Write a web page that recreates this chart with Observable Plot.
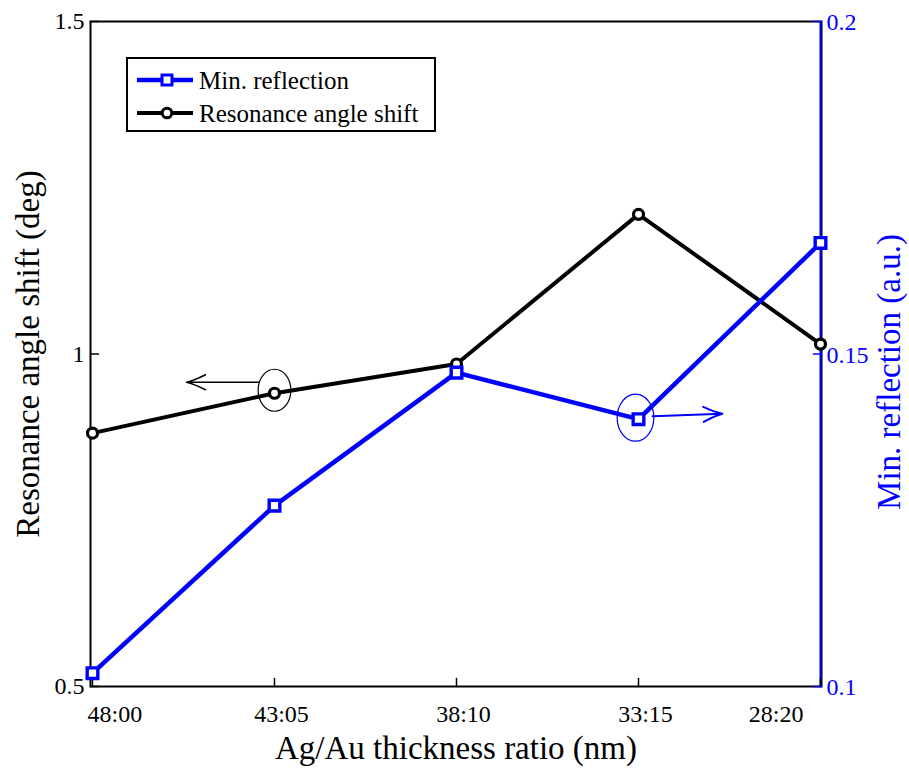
<!DOCTYPE html>
<html>
<head>
<meta charset="utf-8">
<script src="https://cdn.jsdelivr.net/npm/d3@7"></script>
<script src="https://cdn.jsdelivr.net/npm/@observablehq/plot@0.6"></script>
<style>
  html, body { margin: 0; padding: 0; background: white; }
  #wrap { position: relative; width: 909px; height: 774px; }
  #legend { position: absolute; left: 126px; top: 57px; }
</style>
</head>
<body>
<div id="wrap"></div>
<script>
// ---- data ----
const categories = ["48:00", "43:05", "38:10", "33:15", "28:20"];
const resonanceShift = [0.881, 0.941, 0.985, 1.210, 1.015];   // deg, left axis
const minReflection = [0.1020, 0.1272, 0.1472, 0.1402, 0.1667]; // a.u., right axis
const leftTicks = [0.5, 1, 1.5];
const leftTickLabels = ["0.5", "1", "1.5"];
const rightTicks = [0.1, 0.15, 0.2];
const rightTickLabels = ["0.1", "0.15", "0.2"];
const xTitle = "Ag/Au thickness ratio (nm)";
const yLeftTitle = "Resonance angle shift (deg)";
const yRightTitle = "Min. reflection (a.u.)";
const seriesNames = ["Min. reflection", "Resonance angle shift"];

const BLUE = "#0000ff";
const FONT = "'Liberation Serif', 'Times New Roman', Times, serif";

// right axis [0.1,0.2] mapped onto left domain [0.5,1.5]
const rightDomain = [0.1, 0.2], leftDomain = [0.5, 1.5];
const toLeft = v => leftDomain[0] + (v - rightDomain[0]) / (rightDomain[1] - rightDomain[0]) * (leftDomain[1] - leftDomain[0]);

const shiftData = categories.map((c, i) => ({cat: c, v: resonanceShift[i]}));
const reflData = categories.map((c, i) => ({cat: c, v: toLeft(minReflection[i])}));
const rightTickData = rightTicks.map((t, i) => ({v: toLeft(t), label: rightTickLabels[i]}));
const leftTickData = leftTicks.map((t, i) => ({v: t, label: leftTickLabels[i]}));

// custom shapes
const tickShape = { draw(ctx, l) { ctx.moveTo(0, 0); ctx.lineTo(0, -l); } };
const arrowShape = { draw(ctx, l) {
  ctx.moveTo(0, 0); ctx.lineTo(0, -l);
  ctx.moveTo(-7.5, -l + 19); ctx.quadraticCurveTo(-1.5, -l + 7, 0, -l);
  ctx.quadraticCurveTo(1.5, -l + 7, 7.5, -l + 19);
} };
const ellipseSymbol = { draw(ctx, size) {
  const ry = Math.sqrt(size / Math.PI), rx = ry * 0.78, k = 0.5523;
  ctx.moveTo(rx, 0);
  ctx.bezierCurveTo(rx, ry * k, rx * k, ry, 0, ry);
  ctx.bezierCurveTo(-rx * k, ry, -rx, ry * k, -rx, 0);
  ctx.bezierCurveTo(-rx, -ry * k, -rx * k, -ry, 0, -ry);
  ctx.bezierCurveTo(rx * k, -ry, rx, -ry * k, rx, 0);
  ctx.closePath();
} };

const T = {lineAnchor: "middle"};

const chart = Plot.plot({
  width: 909,
  height: 774,
  marginLeft: 90,
  marginRight: 88,
  marginTop: 21,
  marginBottom: 88,
  style: {fontFamily: FONT, background: "white", overflow: "visible"},
  x: {type: "point", domain: categories, padding: 0, axis: null},
  y: {domain: leftDomain, axis: null},
  marks: [
    // frame and blue right axis
    Plot.frame({stroke: "black", strokeWidth: 2}),
    Plot.ruleX([categories[categories.length - 1]], {x: d => d, stroke: BLUE, strokeWidth: 2}),
    // inward ticks
    Plot.vector(categories, {x: d => d, frameAnchor: "bottom", length: 8, rotate: 0, anchor: "start", shape: tickShape, stroke: "black", strokeWidth: 1.5}),
    Plot.vector(leftTickData, {y: "v", frameAnchor: "left", length: 8, rotate: 90, anchor: "start", shape: tickShape, stroke: "black", strokeWidth: 1.5}),
    Plot.vector(rightTickData, {y: "v", frameAnchor: "right", length: 8, rotate: -90, anchor: "start", shape: tickShape, stroke: BLUE, strokeWidth: 1.5}),
    // tick labels
    Plot.text(leftTickData, {...T, y: "v", text: "label", frameAnchor: "left", textAnchor: "end", dx: -6, fontSize: 24, fill: "black"}),
    Plot.text(rightTickData, {...T, y: "v", text: "label", frameAnchor: "right", textAnchor: "start", dx: 5, dy: 1, fontSize: 24, fill: BLUE}),
    Plot.text(categories.slice(0, 1), {...T, x: d => d, text: d => d, frameAnchor: "bottom", textAnchor: "start", dx: -5, dy: 28, fontSize: 24, fill: "black"}),
    Plot.text(categories.slice(1, -1), {...T, x: d => d, text: d => d, frameAnchor: "bottom", textAnchor: "middle", dx: 7, dy: 28, fontSize: 24, fill: "black"}),
    Plot.text(categories.slice(-1), {...T, x: d => d, text: d => d, frameAnchor: "bottom", textAnchor: "end", dx: -17, dy: 28, fontSize: 24, fill: "black"}),
    // axis titles
    Plot.text([xTitle], {...T, text: d => d, frameAnchor: "bottom", textAnchor: "middle", dy: 62, fontSize: 33, fill: "black"}),
    Plot.text([yLeftTitle], {...T, text: d => d, frameAnchor: "left", textAnchor: "middle", dx: -62, rotate: -90, fontSize: 33, fill: "black"}),
    Plot.text([yRightTitle], {...T, text: d => d, frameAnchor: "right", textAnchor: "middle", dx: 68, dy: 18, rotate: -90, fontSize: 33, fill: BLUE}),
    // series lines
    Plot.line(shiftData, {x: "cat", y: "v", stroke: "black", strokeWidth: 4}),
    Plot.line(reflData, {x: "cat", y: "v", stroke: BLUE, strokeWidth: 4.5}),
    Plot.dot(shiftData, {x: "cat", y: "v", r: 5, stroke: "black", strokeWidth: 3.2, fill: "white"}),
    Plot.dot(reflData, {x: "cat", y: "v", symbol: "square", r: 6, stroke: BLUE, strokeWidth: 3.4, fill: "white"}),
    // annotations: ellipses and arrows
    Plot.dot(shiftData.filter(d => d.cat === "43:05"), {x: "cat", y: "v", symbol: ellipseSymbol, r: 21, dy: -3, stroke: "black", strokeWidth: 1.2, fill: "none"}),
    Plot.vector(shiftData.filter(d => d.cat === "43:05"), {x: "cat", y: "v", dx: -16, dy: -11, length: 72, rotate: -90, anchor: "start", shape: arrowShape, stroke: "black", strokeWidth: 1.5}),
    Plot.dot(reflData.filter(d => d.cat === "33:15"), {x: "cat", y: "v", symbol: ellipseSymbol, r: 23.5, dx: -3, dy: -1.5, stroke: BLUE, strokeWidth: 1.2, fill: "none"}),
    Plot.vector(reflData.filter(d => d.cat === "33:15"), {x: "cat", y: "v", dx: 14, dy: -3, length: 70, rotate: 88, anchor: "start", shape: arrowShape, stroke: BLUE, strokeWidth: 2})
  ]
});

const wrap = document.getElementById("wrap");
wrap.appendChild(chart);

// legend (inside plot area, top-left)
const lg = d3.select(wrap).append("svg")
  .attr("id", "legend").attr("width", 312).attr("height", 78)
  .style("font-family", FONT);
lg.append("rect").attr("x", 1).attr("y", 1).attr("width", 308).attr("height", 73)
  .attr("fill", "white").attr("stroke", "black").attr("stroke-width", 2);
const rows = [
  {name: seriesNames[0], color: BLUE, sym: "square", y: 23},
  {name: seriesNames[1], color: "black", sym: "circle", y: 56}
];
rows.forEach(r => {
  lg.append("line").attr("x1", 11).attr("x2", 67).attr("y1", r.y).attr("y2", r.y)
    .attr("stroke", r.color).attr("stroke-width", r.sym === "square" ? 4.5 : 4);
  if (r.sym === "square") {
    lg.append("rect").attr("x", 36).attr("y", r.y - 5).attr("width", 10).attr("height", 10)
      .attr("fill", "white").attr("stroke", r.color).attr("stroke-width", 3);
  } else {
    lg.append("circle").attr("cx", 41).attr("cy", r.y).attr("r", 4.8)
      .attr("fill", "white").attr("stroke", r.color).attr("stroke-width", 3);
  }
  lg.append("text").attr("x", 73).attr("y", r.y).attr("dy", "0.34em")
    .attr("font-size", 25).attr("fill", "black").text(r.name);
});
</script>
</body>
</html>
